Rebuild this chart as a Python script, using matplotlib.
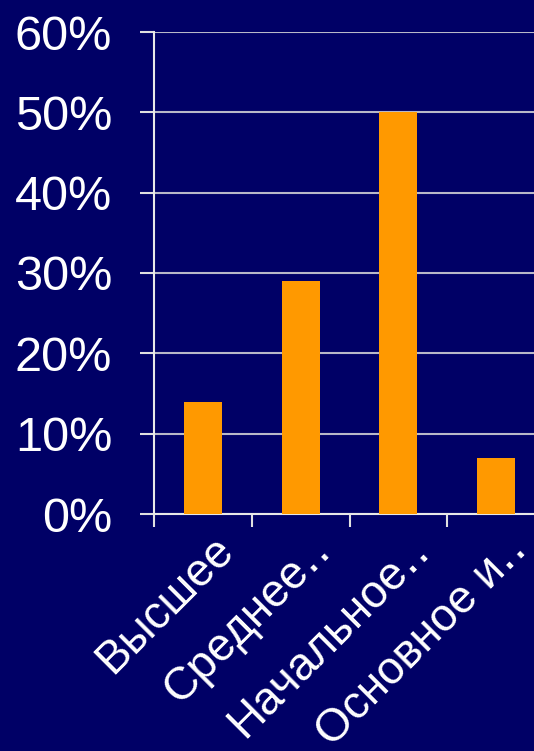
import matplotlib
matplotlib.use("Agg")
import matplotlib.pyplot as plt
import matplotlib.transforms as mtransforms
from matplotlib.ticker import FuncFormatter

categories = ["Высшее", "Среднее‥", "Начальное‥", "Основное и‥"]
values = [14, 29, 50, 7]
y_ticks = [0, 10, 20, 30, 40, 50, 60]

BG = "#000066"
BAR = "#FF9900"

plt.rcParams['font.family'] = ['Liberation Sans', 'DejaVu Sans']

fig = plt.figure(figsize=(5.34, 7.51), dpi=100, facecolor=BG)
ax = fig.add_axes([154/534, 1-514/751, 391/534, (514-32)/751])
ax.set_facecolor(BG)

x = list(range(len(categories)))
ax.bar(x, values, width=0.39, color=BAR, zorder=3)

ax.set_xlim(-0.5, len(categories)-0.5)
ax.set_ylim(0, 60)
ax.set_yticks(y_ticks)
ax.yaxis.set_major_formatter(FuncFormatter(lambda v, p: f"{int(v)}%"))
ax.grid(axis='y', color='#b8b8c8', linewidth=1.5, zorder=1)
ax.set_axisbelow(True)

for s in ['top', 'right']:
    ax.spines[s].set_visible(False)
ax.spines['left'].set_color('#e8e8e8')
ax.spines['bottom'].set_color('#e8e8e8')
ax.spines['left'].set_linewidth(1.5)
ax.spines['bottom'].set_linewidth(1.5)

ax.tick_params(axis='y', colors='#e0e0e0', labelcolor='white', labelsize=35,
               length=10, width=1.5, pad=20, direction='out')
ax.set_xticks([i - 0.5 for i in range(len(categories))])
ax.set_xticklabels([])
ax.tick_params(axis='x', colors='#e0e0e0', length=9, width=1.5, direction='out')

offset = mtransforms.ScaledTranslation(24/100, -29/100, fig.dpi_scale_trans)
trans = ax.get_xaxis_transform() + offset
for xi, lab in zip(x, categories):
    ax.text(xi, 0, lab, transform=trans, rotation=45, ha='right', va='center',
            rotation_mode='anchor', color='white', fontsize=33)

fig.savefig("out.png", dpi=100, facecolor=BG)
